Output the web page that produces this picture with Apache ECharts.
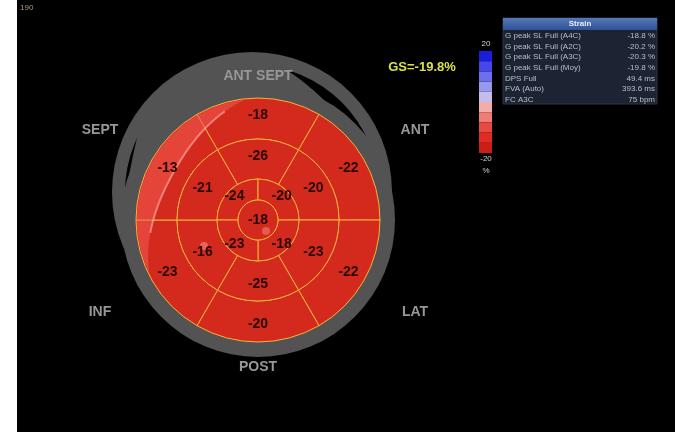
<!DOCTYPE html>
<html>
<head>
<meta charset="utf-8">
<script src="https://cdn.jsdelivr.net/npm/echarts@6/dist/echarts.min.js"></script>
<style>
html, body { margin: 0; padding: 0; background: #fff; }
#chart { width: 675px; height: 432px; }
</style>
</head>
<body>
<div id="chart"></div>
<script>
// strain per segment (%): basal & mid clockwise from top, apical clockwise from upper-left
var basal = [-18, -22, -22, -20, -23, -13];
var mid = [-26, -20, -23, -25, -16, -21];
var apical = [-24, -20, -18, -23];
var apex = [-18];

// colour scale, bottom (-20) to top (20)
var scaleColors = ['#cc1e14', '#e02c22', '#e84a42', '#f07c76', '#f2acaa',
                   '#c4bcec', '#9898f0', '#6e6eee', '#4646ea', '#1c1cdf'];
var scaleMin = -20, scaleMax = 20;

var tableRows = [
  ['G peak SL Full (A4C)', '-18.8 %'],
  ['G peak SL Full (A2C)', '-20.2 %'],
  ['G peak SL Full (A3C)', '-20.3 %'],
  ['G peak SL Full (Moy)', '-19.8 %'],
  ['DPS Full', '49.4 ms'],
  ['FVA (Auto)', '393.6 ms'],
  ['FC A3C', '75 bpm']
];
var globalStrain = -19.8;

var cx = 258, cy = 220;
var segFill = '#d42a1d';
var segBorder = '#f2b43a';
var ringGray = '#535353';
var font = 'Liberation Sans, Arial, sans-serif';

// fills only (labels drawn by a second transparent pass, above the gloss)
function ring(values, r0, r1, start, pos, labelsOnly) {
  return {
    type: 'pie',
    silent: true,
    z: labelsOnly ? 4 : 2,
    center: [cx, cy],
    radius: [r0, r1],
    startAngle: start,
    clockwise: true,
    avoidLabelOverlap: false,
    data: values.map(function (v) { return { value: 1, name: String(v) }; }),
    itemStyle: labelsOnly
      ? { color: 'rgba(0,0,0,0)', borderWidth: 0 }
      : { color: segFill, borderColor: segBorder, borderWidth: 1 },
    label: {
      show: !!labelsOnly, position: pos, formatter: '{b}',
      color: '#2a0806', fontSize: 14, fontWeight: 'bold', fontFamily: font
    },
    labelLine: { show: false }
  };
}

function grayRing(center, r0, r1) {
  return {
    type: 'pie', silent: true, z: 1, center: center, radius: [r0, r1],
    data: [{ value: 1 }], label: { show: false }, labelLine: { show: false },
    itemStyle: { color: ringGray, borderWidth: 0 }
  };
}

// colour bar as stacked bars: negatives stack down from 0, positives up
var step = (scaleMax - scaleMin) / scaleColors.length;
var scaleSeries = [];
var order = [];
for (var i = scaleColors.length / 2 - 1; i >= 0; i--) order.push(i);
for (var j = scaleColors.length / 2; j < scaleColors.length; j++) order.push(j);
order.forEach(function (k) {
  var lower = scaleMin + k * step;
  scaleSeries.push({
    type: 'bar', stack: 'scale', silent: true, barWidth: '100%',
    data: [lower < 0 ? -step : step],
    itemStyle: { color: scaleColors[k] }
  });
});

// glossy crescent on the upper-left rim
function crescent(a1, a2, rOut, w) {
  var outer = [], inner = [];
  for (var t = 0; t <= 40; t++) {
    var a = (a1 + (a2 - a1) * t / 40) * Math.PI / 180;
    var wi = w * Math.sin(Math.PI * t / 40);
    outer.push([cx + rOut * Math.cos(a), cy - rOut * Math.sin(a)]);
    inner.push([cx + (rOut - wi) * Math.cos(a), cy - (rOut - wi) * Math.sin(a)]);
  }
  return { outer: outer, inner: inner };
}
var gloss = crescent(96, 206, 121, 24);

// shadow ring offset to the upper-left, merged with the main ring on that side
var shadowC = [252, 192], shadowR0 = 127, shadowR1 = 140;
function shadowBridge(a1, a2, ramp) {
  var dx = cx - shadowC[0], dy = cy - shadowC[1];
  var near = [], far = [];
  for (var a = a1 - ramp; a <= a2 + ramp; a += 1) {
    var t = a * Math.PI / 180, ux = Math.cos(t), uy = -Math.sin(t);
    var du = dx * ux + dy * uy;
    var rIn = -du + Math.sqrt(du * du - (dx * dx + dy * dy) + shadowR0 * shadowR0);
    var g = a < a1 ? (a - a1 + ramp) / ramp : a > a2 ? (a2 + ramp - a) / ramp : 1;
    var r = 135 + (rIn + 2 - 135) * g;
    near.push([cx + 134 * ux, cy + 134 * uy]);
    far.push([cx + r * ux, cy + r * uy]);
  }
  return near.concat(far.reverse());
}

function wall(text, x, y) {
  return { type: 'text', x: x, y: y, z: 50,
    style: { text: text, fill: '#979797', font: 'bold 14px ' + font,
             textAlign: 'center', textVerticalAlign: 'middle' } };
}

var graphics = [
  { type: 'rect', shape: { x: 17, y: 0, width: 660, height: 432 }, style: { fill: '#000' }, z: -10 },
  { type: 'polygon', z: 1, shape: { points: shadowBridge(82, 142, 24) }, style: { fill: ringGray } },
  { type: 'polygon', z: 3, shape: { points: gloss.outer.concat(gloss.inner.slice().reverse()) },
    style: { fill: 'rgba(240,90,80,0.55)' } },
  { type: 'polyline', z: 3, shape: { points: gloss.inner.slice(4, 34) },
    style: { stroke: 'rgba(255,190,185,0.55)', lineWidth: 2, fill: null } },
  { type: 'circle', z: 3, shape: { cx: 204, cy: 246, r: 4 }, style: { fill: 'rgba(245,140,130,0.6)' } },
  { type: 'circle', z: 3, shape: { cx: 266, cy: 231, r: 4 }, style: { fill: 'rgba(245,140,130,0.5)' } },
  { type: 'text', x: 20, y: 8, style: { text: '190', fill: '#a89a78', font: '8px ' + font, textVerticalAlign: 'middle' } },
  wall('ANT SEPT', 258, 76), wall('SEPT', 100, 130), wall('ANT', 415, 130),
  wall('INF', 100, 312), wall('LAT', 415, 312), wall('POST', 258, 367),
  { type: 'text', x: 422, y: 67, style: { text: 'GS=' + globalStrain + '%', fill: '#dbe046',
      font: 'bold 13px ' + font, textAlign: 'center', textVerticalAlign: 'middle' } },
  { type: 'text', x: 486, y: 44, style: { text: String(scaleMax), fill: '#d0d0d0', font: '8px ' + font, textAlign: 'center', textVerticalAlign: 'middle' } },
  { type: 'text', x: 486, y: 159, style: { text: String(scaleMin), fill: '#d0d0d0', font: '8px ' + font, textAlign: 'center', textVerticalAlign: 'middle' } },
  { type: 'text', x: 486, y: 171, style: { text: '%', fill: '#d0d0d0', font: '8px ' + font, textAlign: 'center', textVerticalAlign: 'middle' } },
  // table
  { type: 'rect', shape: { x: 503, y: 18, width: 154, height: 86 }, style: { fill: '#1c2332', stroke: '#2c3548', lineWidth: 1 } },
  { type: 'rect', shape: { x: 503, y: 18, width: 154, height: 12 },
    style: { fill: new echarts.graphic.LinearGradient(0, 0, 0, 1, [{ offset: 0, color: '#5479b8' }, { offset: 1, color: '#2f5294' }]) } },
  { type: 'text', x: 580, y: 24, style: { text: 'Strain', fill: '#e8eef8', font: 'bold 8px ' + font, textAlign: 'center', textVerticalAlign: 'middle' } }
];
tableRows.forEach(function (r, i) {
  var y = 36 + i * 10.6;
  graphics.push({ type: 'text', x: 505, y: y, style: { text: r[0], fill: '#b9bfca', font: '8px ' + font, textVerticalAlign: 'middle' } });
  graphics.push({ type: 'text', x: 655, y: y, style: { text: r[1], fill: '#b9bfca', font: '8px ' + font, textAlign: 'right', textVerticalAlign: 'middle' } });
});

var option = {
  animation: false,
  backgroundColor: '#fff',
  grid: { left: 479, top: 51, width: 13, height: 102 },
  xAxis: { type: 'category', data: [''], show: false },
  yAxis: { type: 'value', min: scaleMin, max: scaleMax, show: false },
  series: [
    grayRing(shadowC, shadowR0, shadowR1),
    grayRing([cx, cy], 120, 137),
    ring(basal, 81, 122, 120, 'inside'),
    ring(mid, 41, 81, 120, 'inside'),
    ring(apical, 20, 41, 180, 'inside'),
    ring(apex, 0, 20, 90, 'center'),
    ring(basal, 81, 122, 120, 'inside', true),
    ring(mid, 41, 81, 120, 'inside', true),
    ring(apical, 20, 41, 180, 'inside', true),
    ring(apex, 0, 20, 90, 'center', true)
  ].concat(scaleSeries),
  graphic: graphics
};

var chart = echarts.init(document.getElementById('chart'));
chart.setOption(option);
</script>
</body>
</html>
